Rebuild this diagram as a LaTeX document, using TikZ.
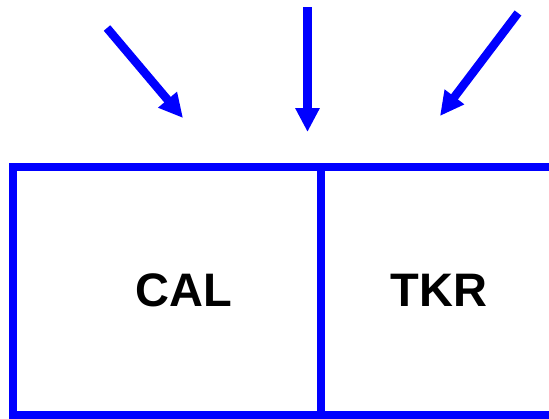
\documentclass[tikz,border=0pt]{standalone}
\usepackage{fontspec}
\setmainfont{Liberation Sans}
\usetikzlibrary{arrows.meta}
\definecolor{linkblue}{RGB}{0,0,255}
\begin{document}
\begin{tikzpicture}[x=1pt,y=-1pt,
  cell/.style={draw=linkblue, line width=8pt, inner sep=0pt, outer sep=0pt},
  label/.style={font=\fontsize{47}{47}\selectfont\bfseries, text=black},
  incoming/.style={draw=linkblue, line width=8.5pt,
    -{Triangle[length=24pt,width=23pt]}}]
  \useasboundingbox (0,0) rectangle (549,418);
  \clip (0,0) rectangle (549,418);
  % two detector cells sharing a wall
  \node[cell, minimum width=307.5pt, minimum height=247.5pt, anchor=north west]
    (cal) at (13,167) {};
  \node[cell, minimum width=300pt, minimum height=247.5pt, anchor=north west]
    (tkr) at (320.5,167) {};
  \node[label] (calt) at (184,290) {CAL};
  \node[label] (tkrt) at (439,290) {TKR};
  % incoming particles
  \coordinate (s1) at (107,28);   \coordinate (e1) at (183,118);
  \coordinate (s2) at (307.5,7);  \coordinate (e2) at (307.5,132);
  \coordinate (s3) at (518,13);   \coordinate (e3) at (440,116);
  \draw[incoming] (s1) -- (e1);
  \draw[incoming] (s2) -- (e2);
  \draw[incoming] (s3) -- (e3);
\end{tikzpicture}
\end{document}
